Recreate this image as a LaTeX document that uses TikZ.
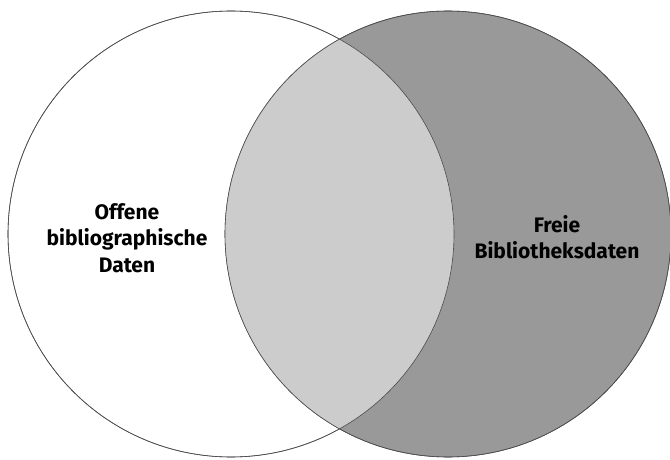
\documentclass[tikz,border=0pt]{standalone}
\usepackage{fontspec}
\setsansfont{Fira Sans}
\usepackage{tikz}
\usetikzlibrary{positioning}

\begin{document}
\begin{tikzpicture}[x=1pt,y=1pt,
        menge/.style={circle,draw=black!70,line width=0.6pt,inner sep=0pt},
        etikett/.style={align=center,font=\sffamily\bfseries\fontsize{21}{26.5}\selectfont}]

        \useasboundingbox (0,0) rectangle (670,459);

        % die beiden Mengen
        \node[menge,fill=white,minimum size=446pt] (offen) at (231,225) {};
        \node[menge,fill=black!40,minimum size=446pt] (frei) at (448,225) {};

        % Schnittmenge
        \begin{scope}
            \clip (offen.center) circle (223);
            \fill[black!20] (frei.center) circle (223);
        \end{scope}
        \draw[black!70,line width=0.6pt] (offen.center) circle (223);
        \draw[black!70,line width=0.6pt] (frei.center) circle (223);

        \node[etikett] (offenlabel) at (127,221) {Offene\\bibliographische\\Daten};
        \node[etikett] (freilabel) at (557,222) {Freie\\Bibliotheksdaten};
    \end{tikzpicture}
\end{document}
